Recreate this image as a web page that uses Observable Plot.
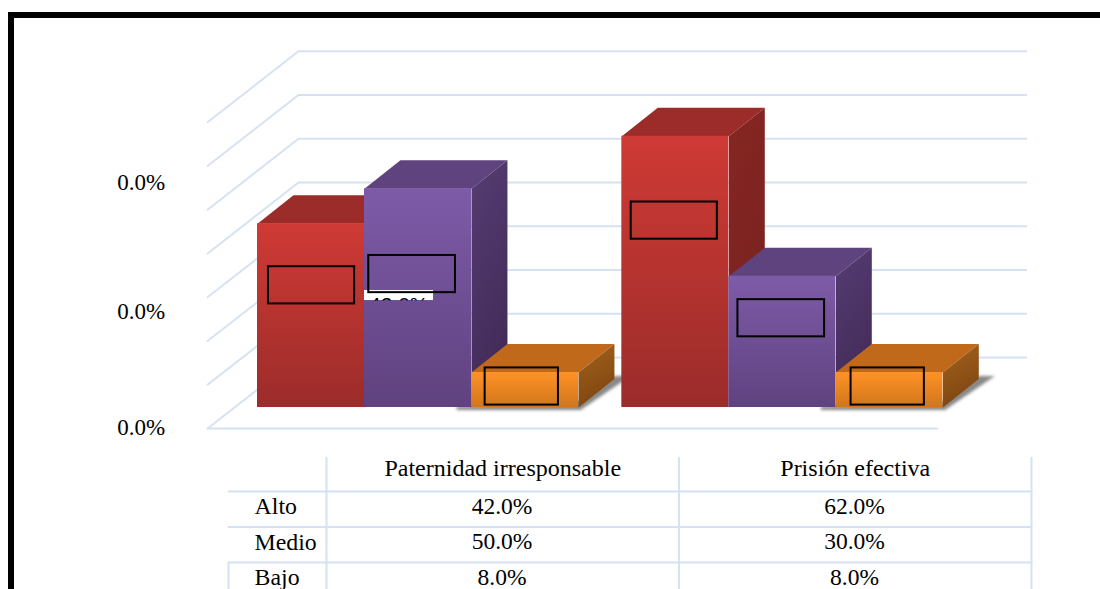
<!DOCTYPE html>
<html lang="es">
<head>
<meta charset="utf-8">
<script src="https://cdn.jsdelivr.net/npm/d3@7"></script>
<script src="https://cdn.jsdelivr.net/npm/@observablehq/plot@0.6"></script>
<style>
  html, body { margin: 0; padding: 0; background: #fff; overflow: hidden; }
  #page { position: relative; width: 1100px; height: 589px; overflow: hidden; }
  #border { position: absolute; left: 8px; top: 12px; width: 1092px; height: 577px;
            border-left: 6px solid #000; border-top: 6px solid #000; box-sizing: border-box; }
  #page svg { position: absolute; left: 0; background: transparent; }
</style>
</head>
<body>
<div id="page"><div id="border"></div></div>
<script>
// Survey results by theme and level
const categories = ["Paternidad irresponsable", "Prisión efectiva"];
const levels = ["Alto", "Medio", "Bajo"];
const alto = [42, 62];
const medio = [50, 30];
const bajo = [8, 8];
const axisLabels = ["0.0%", "0.0%", "0.0%"];
const axisLabelValues = [-4.6, 21.9, 51.5];
const gridValues = [0, 10, 20, 30, 40, 50, 60, 70];

const seriesValues = [alto, medio, bajo];
const pct = (v) => `${v.toFixed(1)}%`;
const serif = "Liberation Serif";
const gridColor = "#d6e2f3";
const shadowColor = "#4a4a4a";

// Bar faces: front gradient, side gradient and flat top for each level
const palette = [
  {front: ["#cf3a35", "#9b2c2a"], side: ["#872622", "#772220"], top: "#9b2c2a"},
  {front: ["#7e5ba8", "#5f427f"], side: ["#553c73", "#422b58"], top: "#5e437e"},
  {front: ["#ff9226", "#d0761c"], side: ["#a4631c", "#7f4612"], top: "#c0691b"}
];

// Pseudo-3D geometry, in scale units: bars are one x unit wide
const groupStep = 3.405;
const depthX = 0.336;
const depthV = 6.5;
const wallX0 = 0.383, wallX1 = 7.185, wallV = 11.43;
const floorX0 = -0.467, floorX1 = 6.355, floorV = -4.8;

// Outlined label boxes: centre shift from the bar, height fraction and width
const boxShift = [[0.005, -0.055, -0.03], [-0.01, -0.01, -0.015]];
const boxRise = [[0.665, 0.61, 0.6], [0.689, 0.68, 0.6]];
const boxWidth = [0.805, 0.81, 0.685];
const boxHeightV = 8.5;

const bars = categories.flatMap((category, g) => levels.map((level, s) => ({
  category, level, s, g,
  value: seriesValues[s][g],
  x0: g * groupStep + s,
  x1: g * groupStep + s + 1
})));

const polygon = (points, options) =>
  Plot.line(points, {x: "0", y: "1", curve: "linear", stroke: "none", ...options});

const defs = () => {
  const d = d3.create("svg:defs");
  const gradient = (id, [a, b], x2 = 0) => {
    const g = d.append("linearGradient").attr("id", id)
      .attr("x1", 0).attr("y1", 0).attr("x2", x2).attr("y2", 1);
    g.append("stop").attr("offset", 0).attr("stop-color", a);
    g.append("stop").attr("offset", 1).attr("stop-color", b);
  };
  palette.forEach((p, i) => {
    gradient(`front${i}`, p.front);
    gradient(`side${i}`, p.side, 0.3);
  });
  d.append("filter").attr("id", "soft").attr("x", "-20%").attr("y", "-50%")
    .attr("width", "140%").attr("height", "200%")
    .append("feGaussianBlur").attr("stdDeviation", 1.8);
  d.append("clipPath").attr("id", "patch").attr("clipPathUnits", "userSpaceOnUse")
    .append("rect").attr("x", 364).attr("y", 290).attr("width", 69).attr("height", 10);
  return d.node();
};

const gridMarks = [
  // Back wall and left wall lines
  ...gridValues.map((v) => polygon([[wallX0, wallV + v], [wallX1, wallV + v]], {stroke: gridColor, strokeWidth: 2})),
  ...gridValues.map((v) => polygon([[floorX0, floorV + v], [wallX0, wallV + v]], {stroke: gridColor, strokeWidth: 2})),
  // Floor front edge
  polygon([[floorX0, floorV], [floorX1, floorV]], {stroke: gridColor, strokeWidth: 2})
];

const shadowMarks = bars.filter((b) => b.s === 2).map((b) => polygon([
  [b.x0 - 0.14, 0.2], [b.x0 - 0.14, -0.6], [b.x1 + 0.02, -0.6],
  [b.x1 + depthX + 0.15, depthV + 0.7], [b.x1 + depthX, depthV + 0.7], [b.x1, 1.4]
], {fill: shadowColor, fillOpacity: 0.65}));

const barMarks = bars.flatMap((b) => {
  const p = palette[b.s];
  return [
    polygon([[b.x0, b.value], [b.x1, b.value], [b.x1 + depthX, b.value + depthV], [b.x0 + depthX, b.value + depthV]],
      {fill: p.top}),
    polygon([[b.x1, b.value], [b.x1 + depthX, b.value + depthV], [b.x1 + depthX, depthV], [b.x1, 0]],
      {fill: `url(#side${b.s})`}),
    Plot.rect([b], {x1: "x0", x2: "x1", y1: () => 0, y2: "value", fill: `url(#front${b.s})`})
  ];
});

const boxes = bars.map((b) => {
  const cx = (b.x0 + b.x1) / 2 + boxShift[b.g][b.s];
  const cv = b.value * boxRise[b.g][b.s];
  const w = boxWidth[b.s];
  return {x1: cx - w / 2, x2: cx + w / 2, y1: cv - boxHeightV / 2, y2: cv + boxHeightV / 2};
});

// Data label cut off by the box above it, on its white backing
const stray = [{x1: 1, x2: 1.645, y1: 24.45, y2: 26.75, xt: 1.32, yt: 23.3}];
const strayText = pct(alto[0]);

const chart = Plot.plot({
  width: 1100,
  height: 457,
  margin: 0,
  style: {background: "transparent"},
  x: {domain: [-257 / 107, 843 / 107], range: [0, 1100], axis: null},
  y: {domain: [-11.43, 93.03], range: [457, 0], axis: null},
  marks: [
    defs,
    ...gridMarks,
    ...shadowMarks,
    ...barMarks,
    Plot.rect(stray, {x1: "x1", x2: "x2", y1: "y1", y2: "y2", fill: "#fff"}),
    Plot.text(stray, {x: "xt", y: "yt", text: () => strayText, fontFamily: "Liberation Sans", fontSize: 21, fill: "#000"}),
    Plot.rect(boxes, {x1: "x1", x2: "x2", y1: "y1", y2: "y2", fill: "none", stroke: "#000", strokeWidth: 2}),
    Plot.text(axisLabels, {x: () => -1.087, y: (d, i) => axisLabelValues[i], text: (d) => d,
      fontFamily: serif, fontSize: 23, fill: "#000"})
  ]
});

// Soften the floor shadows and cut the stray label down to its backing
chart.querySelectorAll(`[fill="${shadowColor}"]`).forEach((el) => el.setAttribute("filter", "url(#soft)"));
chart.querySelectorAll("text").forEach((el) => {
  if (el.textContent === strayText) el.parentNode.setAttribute("clip-path", "url(#patch)");
});
chart.style.top = "0px";

// Data table below the chart, in column and row units
const colLines = [1, 2, 3];
const rowLines = [1, 2, 3];
const headerMarks = categories.map((c, i) => ({text: c, col: i + 1.5, row: 0.36}));
const rowLabels = levels.map((l, i) => ({text: l, row: i + 1.42}));
const cells = levels.flatMap((l, s) => categories.map((c, g) => ({
  text: pct(seriesValues[s][g]), col: g + 1.498, row: s + 1.42
})));

const table = Plot.plot({
  width: 1100,
  height: 149,
  margin: 0,
  style: {background: "transparent"},
  x: {domain: [1 - 326 / 352.5, 1 + 774 / 352.5], range: [0, 1100], axis: null},
  y: {domain: [1 - 51 / 35.5, 1 + 98 / 35.5], range: [0, 149], axis: null},
  marks: [
    ...colLines.map((c) => polygon([[c, 0.05], [c, 4]], {stroke: gridColor, strokeWidth: 2})),
    ...rowLines.map((r) => polygon([[0.722, r], [3, r]], {stroke: gridColor, strokeWidth: 2})),
    polygon([[0.722, 3], [0.722, 4]], {stroke: gridColor, strokeWidth: 2}),
    Plot.text(headerMarks, {x: "col", y: "row", text: "text", fontFamily: serif, fontSize: 24, fill: "#000"}),
    Plot.text(rowLabels, {x: () => 0.796, y: "row", text: "text", textAnchor: "start", fontFamily: serif, fontSize: 23.8, fill: "#000"}),
    Plot.text(cells, {x: "col", y: "row", text: "text", fontFamily: serif, fontSize: 23.5, fill: "#000"})
  ]
});
table.style.top = "440px";

const page = document.getElementById("page");
page.append(chart, table);
</script>
</body>
</html>
